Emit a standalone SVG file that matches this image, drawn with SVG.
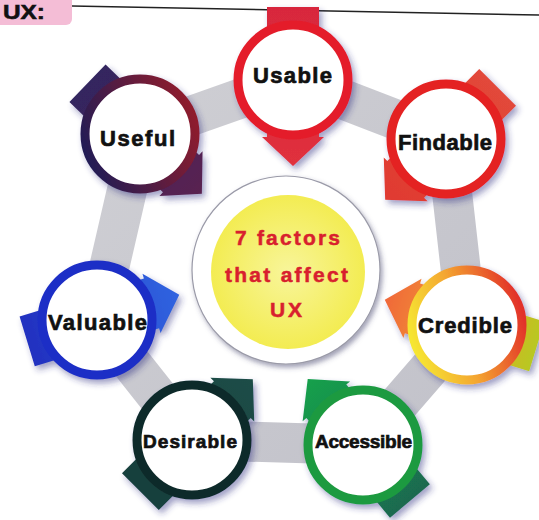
<svg xmlns="http://www.w3.org/2000/svg" width="539" height="520" viewBox="0 0 539 520">
  <defs>
    <style>
      .label { font-family: "Liberation Sans", Arial, sans-serif; font-weight: bold; fill: #111; stroke: #111; stroke-width: 0.7; text-anchor: middle; }
      .core { font-family: "Liberation Sans", Arial, sans-serif; font-weight: bold; font-size: 21px; fill: #d81f2e; stroke: #d81f2e; stroke-width: 0.5; text-anchor: middle; }
      .face { fill: #ffffff; stroke-width: 9; }
    </style>
    <filter id="shadow" x="-30%" y="-30%" width="160%" height="160%">
      <feDropShadow dx="3" dy="4" stdDeviation="3" flood-color="#2a2a80" flood-opacity="0.45"/>
    </filter>
    <filter id="softShadow" x="-20%" y="-20%" width="140%" height="140%">
      <feDropShadow dx="2" dy="3" stdDeviation="2.5" flood-color="#40406a" flood-opacity="0.5"/>
    </filter>
    <!-- arrow body running along +x, tail behind, head toward the hub -->
    <path id="arrow" d="M -73 -26 L 57 -26 L 57 -31 L 86 0 L 57 31 L 57 26 L -73 26 Z"/>
    <linearGradient id="gUsable" x1="0" y1="0" x2="1" y2="0">
      <stop offset="0" stop-color="#d8283e"/><stop offset="1" stop-color="#e0303c"/>
    </linearGradient>
    <linearGradient id="gFindable" x1="0" y1="0" x2="1" y2="0">
      <stop offset="0" stop-color="#e2483a"/><stop offset="1" stop-color="#e03a30"/>
    </linearGradient>
    <linearGradient id="gCredible" x1="0" y1="0" x2="1" y2="0">
      <stop offset="0" stop-color="#b8c820"/><stop offset="0.5" stop-color="#f0a030"/><stop offset="1" stop-color="#f0683a"/>
    </linearGradient>
    <linearGradient id="gAccessible" x1="0" y1="0" x2="1" y2="0">
      <stop offset="0" stop-color="#1a6a50"/><stop offset="1" stop-color="#17a04c"/>
    </linearGradient>
    <linearGradient id="gDesirable" x1="0" y1="0" x2="1" y2="0">
      <stop offset="0" stop-color="#173f3c"/><stop offset="1" stop-color="#1d4d47"/>
    </linearGradient>
    <linearGradient id="gValuable" x1="0" y1="0" x2="1" y2="0">
      <stop offset="0" stop-color="#2030c0"/><stop offset="1" stop-color="#3064e0"/>
    </linearGradient>
    <linearGradient id="gUseful" x1="0" y1="0" x2="1" y2="0">
      <stop offset="0" stop-color="#33255f"/><stop offset="1" stop-color="#5a2150"/>
    </linearGradient>
    <linearGradient id="ringCredible" x1="0" y1="0.65" x2="1" y2="0.35">
      <stop offset="0" stop-color="#f6e632"/><stop offset="0.45" stop-color="#f4a530"/><stop offset="1" stop-color="#e2302a"/>
    </linearGradient>
    <linearGradient id="ringUseful" x1="0" y1="0.7" x2="1" y2="0.3">
      <stop offset="0" stop-color="#221a55"/><stop offset="1" stop-color="#901c2c"/>
    </linearGradient>
    <radialGradient id="yolk" cx="0.5" cy="0.5" r="0.5">
      <stop offset="0" stop-color="#f8f59a"/><stop offset="1" stop-color="#f3ec52"/>
    </radialGradient>
    <linearGradient id="band" x1="0" y1="0" x2="1" y2="1">
      <stop offset="0" stop-color="#cfcfd4"/><stop offset="1" stop-color="#c2c2ca"/>
    </linearGradient>
  </defs>

  <rect width="539" height="520" fill="#ffffff"/>

  <!-- heading tab and rule -->
  <g id="heading">
    <rect x="-8" y="-8" width="80" height="33" rx="6" fill="#f4bdd6"/>
    <text x="3" y="19" font-family="Liberation Sans, Arial, sans-serif" font-weight="bold" font-size="21" fill="#111" stroke="#111" stroke-width="0.6" textLength="42" lengthAdjust="spacingAndGlyphs">UX:</text>
    <line x1="72" y1="6" x2="539" y2="15" stroke="#222" stroke-width="1.5"/>
  </g>

  <!-- grey band linking the seven factors -->
  <g id="connectors">
    <polygon points="293,80 446,139 467,325 363,445 192,440 97,320 140,134" fill="none" stroke="url(#band)" stroke-width="40" stroke-linejoin="round"/>
  </g>

  <!-- hub -->
  <g id="hub">
    <circle cx="286" cy="270" r="94" fill="#ffffff" stroke="#9a9aa8" stroke-width="1.2" filter="url(#softShadow)"/>
    <circle cx="288" cy="272" r="77" fill="url(#yolk)"/>
    <text class="core" x="287.5" y="245" textLength="105" lengthAdjust="spacing">7 factors</text>
    <text class="core" x="286.5" y="282" textLength="123" lengthAdjust="spacing">that affect</text>
    <text class="core" x="286" y="317" textLength="32" lengthAdjust="spacing">UX</text>
  </g>

  <g id="node-usable" transform="translate(293 80)">
    <g filter="url(#shadow)">
      <use href="#arrow" transform="rotate(90)" fill="url(#gUsable)"/>
      <circle class="face" r="55" stroke="#e41e2a"/>
    </g>
    <text class="label" x="-0.5" y="3" font-size="22" textLength="79" lengthAdjust="spacing">Usable</text>
  </g>

  <g id="node-findable" transform="translate(446 139)">
    <g filter="url(#shadow)">
      <use href="#arrow" transform="rotate(135)" fill="url(#gFindable)"/>
      <circle class="face" r="55" stroke="#e42222"/>
    </g>
    <text class="label" x="-1" y="11" font-size="22" textLength="94" lengthAdjust="spacing">Findable</text>
  </g>

  <g id="node-credible" transform="translate(467 325)">
    <g filter="url(#shadow)">
      <use href="#arrow" transform="rotate(197)" fill="url(#gCredible)"/>
      <circle class="face" r="55" stroke="url(#ringCredible)"/>
    </g>
    <text class="label" x="-2" y="8" font-size="22" textLength="94" lengthAdjust="spacing">Credible</text>
  </g>

  <g id="node-accessible" transform="translate(363 445)">
    <g filter="url(#shadow)">
      <use href="#arrow" transform="rotate(230)" fill="url(#gAccessible)"/>
      <circle class="face" r="55" stroke="#1f9a40"/>
    </g>
    <text class="label" x="0.5" y="3" font-size="19" textLength="97" lengthAdjust="spacing">Accessible</text>
  </g>

  <g id="node-desirable" transform="translate(192 440)">
    <g filter="url(#shadow)">
      <use href="#arrow" transform="rotate(-45)" fill="url(#gDesirable)"/>
      <circle class="face" r="55" stroke="#102c2c"/>
    </g>
    <text class="label" x="-2" y="8" font-size="19" textLength="94" lengthAdjust="spacing">Desirable</text>
  </g>

  <g id="node-valuable" transform="translate(97 320)">
    <g filter="url(#shadow)">
      <use href="#arrow" transform="rotate(-17)" fill="url(#gValuable)"/>
      <circle class="face" r="55" stroke="#1e2ec6"/>
    </g>
    <text class="label" x="0.5" y="10" font-size="22" textLength="99" lengthAdjust="spacing">Valuable</text>
  </g>

  <g id="node-useful" transform="translate(140 134)">
    <g filter="url(#shadow)">
      <use href="#arrow" transform="rotate(44)" fill="url(#gUseful)"/>
      <circle class="face" r="55" stroke="url(#ringUseful)"/>
    </g>
    <text class="label" x="-2.5" y="12" font-size="22" textLength="75" lengthAdjust="spacing">Useful</text>
  </g>
</svg>
